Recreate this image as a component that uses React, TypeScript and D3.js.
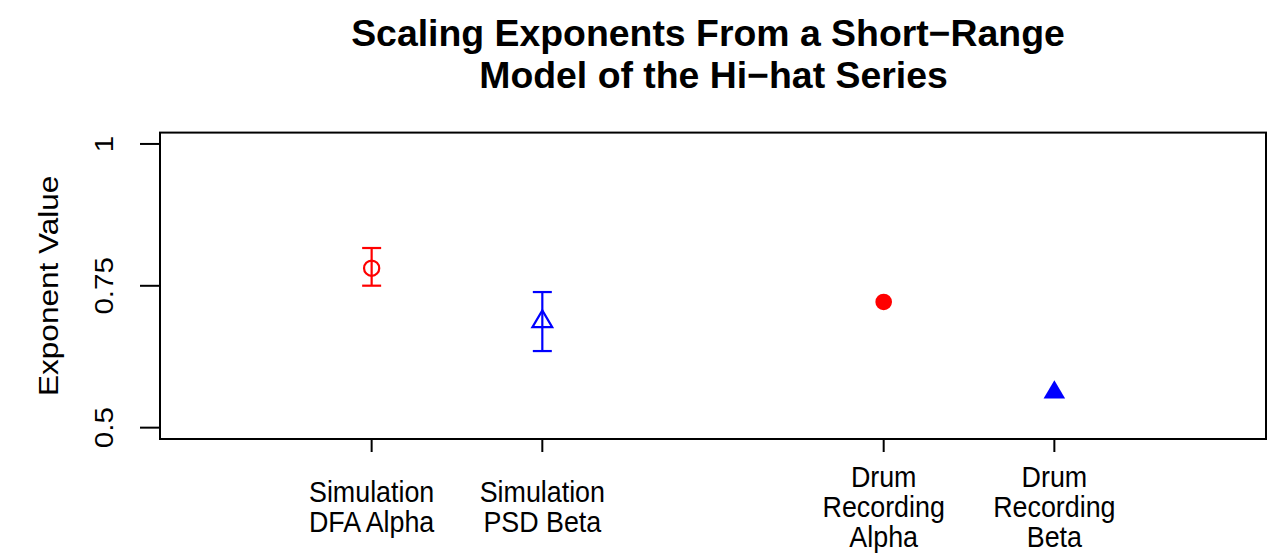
import React from "react";
import * as d3 from "d3";

const categories = [
  ["Simulation", "DFA Alpha"],
  ["Simulation", "PSD Beta"],
  ["Drum", "Recording", "Alpha"],
  ["Drum", "Recording", "Beta"],
];
const xPositions = [1, 2, 4, 5];
const values = [0.781, 0.687, 0.7215, 0.562];
const lower = [0.7502, 0.635, NaN, NaN];
const upper = [0.8166, 0.739, NaN, NaN];
const colors = ["#ff0000", "#0000ff", "#ff0000", "#0000ff"];
const shapes = ["circle-open", "triangle-open", "circle", "triangle"];
const yTicks = [0.5, 0.75, 1];
const yTickLabels = ["0.5", "0.75", "1"];
const titleLines = ["Scaling Exponents From a Short\u2212Range", "Model of the Hi\u2212hat Series"];
const titleCenters = [708, 713.5];

const W = 1269;
const H = 553;
const left = 160, right = 1266, top = 132.6, bottom = 439;
const font = "'Liberation Sans', Arial, Helvetica, sans-serif";

export default function App() {
  const x = d3.scaleLinear().domain([-0.24, 6.24]).range([left, right]);
  const y = d3.scaleLinear().domain([0.48, 1.02]).range([bottom, top]);

  const triPath = (cx: number, cy: number, filled: boolean) => {
    const r = filled ? 12.2 : 11.2;
    const half = r * Math.sqrt(3) / 2 * 1.02;
    return `M${cx},${cy - r}L${cx + half},${cy + r / 2}L${cx - half},${cy + r / 2}Z`;
  };

  return (
    <svg width={W} height={H} style={{ display: "block", position: "absolute", left: 0, top: 0 }}>
      <rect width={W} height={H} fill="#fff" />
      {titleLines.map((t, i) => (
        <text key={i} x={titleCenters[i]} y={45.7 + i * 42.5} textAnchor="middle"
          fontFamily={font} fontWeight="bold" fontSize={37.4}>{t}</text>
      ))}
      <rect x={left} y={top} width={right - left} height={bottom - top} fill="none" stroke="#000" strokeWidth={2} />
      {yTicks.map((v, i) => (
        <g key={i}>
          <line x1={left - 20} x2={left} y1={y(v)} y2={y(v)} stroke="#000" strokeWidth={2} />
          <text transform={`translate(113,${y(v)}) rotate(-90) scale(1.16,1)`} textAnchor="middle"
            fontFamily={font} fontSize={25.5}>{yTickLabels[i]}</text>
        </g>
      ))}
      <text transform={`translate(58,${y(0.75)}) rotate(-90) scale(1.16,1)`} textAnchor="middle"
        fontFamily={font} fontSize={27.2}>Exponent Value</text>
      {xPositions.map((xv, i) => {
        const lines = categories[i];
        const first = 517 - ((lines.length - 1) / 2) * 30;
        return (
          <g key={i}>
            <line x1={x(xv)} x2={x(xv)} y1={bottom} y2={bottom + 13} stroke="#000" strokeWidth={2} />
            {lines.map((l, j) => (
              <text key={j} transform={`translate(${x(xv)},${first + j * 30}) scale(1.1,1.2)`} textAnchor="middle"
                fontFamily={font} fontSize={24.4}>{l}</text>
            ))}
          </g>
        );
      })}
      {xPositions.map((xv, i) => {
        const cx = x(xv), cy = y(values[i]);
        const c = colors[i];
        const hasErr = !isNaN(lower[i]);
        return (
          <g key={i}>
            {hasErr && (
              <g stroke={c} strokeWidth={2.2}>
                <line x1={cx} x2={cx} y1={y(upper[i])} y2={y(lower[i])} />
                <line x1={cx - 9.5} x2={cx + 9.5} y1={y(upper[i])} y2={y(upper[i])} />
                <line x1={cx - 9.5} x2={cx + 9.5} y1={y(lower[i])} y2={y(lower[i])} />
              </g>
            )}
            {shapes[i] === "circle-open" && <circle cx={cx} cy={cy} r={7.6} fill="none" stroke={c} strokeWidth={2.2} />}
            {shapes[i] === "circle" && <circle cx={cx} cy={cy} r={8.3} fill={c} />}
            {shapes[i] === "triangle-open" && <path d={triPath(cx, cy, false)} fill="none" stroke={c} strokeWidth={2.2} />}
            {shapes[i] === "triangle" && <path d={triPath(cx, cy, true)} fill={c} />}
          </g>
        );
      })}
    </svg>
  );
}
